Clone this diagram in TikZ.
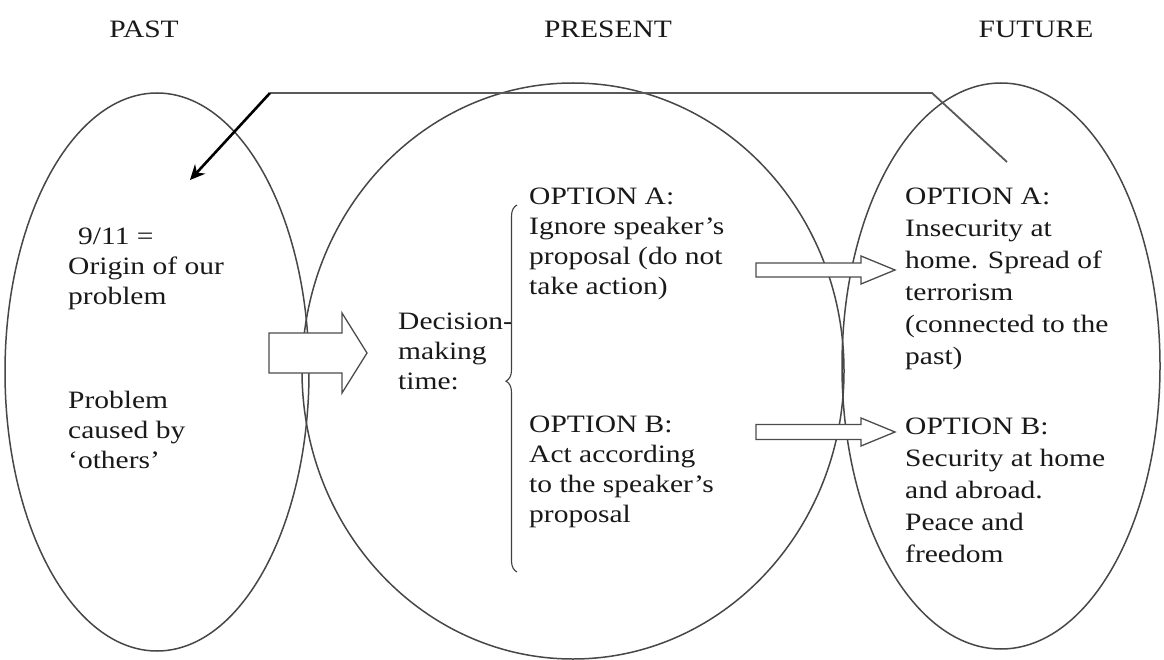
\documentclass[tikz,border=0pt]{standalone}
\usepackage{fontspec}
\setmainfont{Liberation Serif}[FakeStretch=1.18]
\usepackage{tikz}
\usetikzlibrary{shapes.geometric, arrows.meta, decorations.pathreplacing}
\tikzset{
  region/.style={
    ellipse, draw=black!72, line width=1.5pt,
    inner sep=0pt,
  },
  fatline/.style={draw=black!70, line width=1.3pt, fill=white},
  txt/.style={anchor=north west, inner sep=0pt, align=left,
              font=\fontsize{25pt}{30pt}\selectfont, text=black!90},
  widetxt/.style={txt, font=\fontsize{25pt}{32pt}\selectfont},
  head/.style={anchor=base, inner sep=0pt,
               font=\fontsize{25pt}{30pt}\selectfont, text=black!90},
}
% block arrow: x start, head base x, tip x, mid y, half shaft, half head
\newcommand{\fatarrow}[6]{%
  \draw[fatline] (#1,#4-#5) -- (#2,#4-#5) -- (#2,#4-#6) -- (#3,#4)
    -- (#2,#4+#6) -- (#2,#4+#5) -- (#1,#4+#5) -- cycle;}

\begin{document}
\begin{tikzpicture}[x=1pt, y=-1pt]
  \useasboundingbox[fill=white] (0,0) rectangle (1164,660);

  % Headings
  \node[head] (past)    at (144,38)  {PAST};
  \node[head] (present) at (608,38)  {PRESENT};
  \node[head] (future)  at (1036,38) {FUTURE};

  % The three time regions
  \node[region, minimum width=304pt, minimum height=558pt] (pastreg) at (157,372) {};
  \node[region, minimum width=542pt, minimum height=576pt] (presreg) at (573,371) {};
  \node[region, minimum width=318pt, minimum height=566pt] (futreg)  at (1001,366) {};

  % Loop back from the future to the past
  \coordinate (loopa) at (270,93);
  \coordinate (loopb) at (932,93);
  \coordinate (loopc) at (1007,162);
  \coordinate (loopend) at (190,180);
  \draw[black!65, line width=1.8pt] (loopa) -- (loopb) -- (loopc);
  \draw[black, line width=2.6pt, -{Stealth[length=15pt, width=14pt]}] (loopa) -- (loopend);

  % Block arrows
  \fatarrow{269}{342}{367}{353}{20}{40}
  \fatarrow{756}{861}{895}{270}{7}{14}
  \fatarrow{756}{861}{895}{432}{7.5}{14}

  % Past
  \node[txt] (origin) at (68,228) {\hspace*{10pt}9/11 =\\Origin of our\\problem};
  \node[txt] (others) at (68,391) {Problem\\caused by\\‘others’};

  % Present
  \node[txt] (decide) at (398,313) {Decision-\\making\\time:};
  \draw[black!75, line width=1.1pt, decorate,
        decoration={brace, amplitude=11pt, aspect=0.52}] (517,572) -- (517,205);
  \node[txt] (presa) at (529,188) {OPTION A:\\Ignore speaker’s\\proposal (do not\\take action)};
  \node[txt] (presb) at (529,416) {OPTION B:\\Act according\\to the speaker’s\\proposal};

  % Future
  \node[widetxt] (futa) at (905,188) {OPTION A:\\Insecurity at\\home. Spread of\\terrorism\\(connected to the\\past)};
  \node[widetxt] (futb) at (905,418) {OPTION B:\\Security at home\\and abroad.\\Peace and\\freedom};
\end{tikzpicture}
\end{document}
